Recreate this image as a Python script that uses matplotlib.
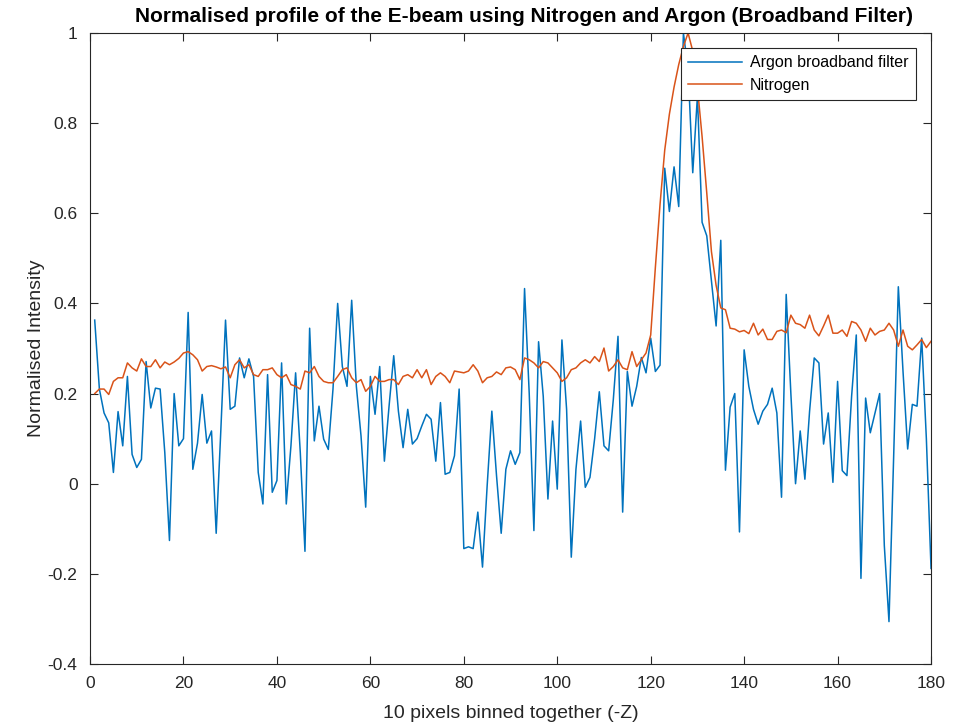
import numpy as np
import matplotlib
matplotlib.use("Agg")
from matplotlib import pyplot as plt

plt.rcParams['font.family'] = ['Liberation Sans', 'DejaVu Sans']

# bin index along -Z
bins = np.arange(1, 181)

# argon through the broadband filter (normalised)
argon = [
    0.363, 0.21, 0.157, 0.135, 0.025, 0.16, 0.084, 0.238, 0.065, 0.036,
    0.054, 0.271, 0.168, 0.212, 0.21, 0.069, -0.126, 0.2, 0.084, 0.10,
    0.38, 0.032, 0.09, 0.198, 0.09, 0.117, -0.11, 0.12, 0.363, 0.165,
    0.172, 0.279, 0.235, 0.277, 0.238, 0.025, -0.045, 0.242, -0.019, 0.007,
    0.268, -0.045, 0.084, 0.246, 0.069, -0.15, 0.345, 0.095, 0.172, 0.099,
    0.076, 0.21, 0.40, 0.26, 0.216, 0.407, 0.216, 0.106, -0.052, 0.238,
    0.154, 0.26, 0.05, 0.172, 0.284, 0.161, 0.08, 0.165, 0.088, 0.10,
    0.128, 0.154, 0.143, 0.05, 0.18, 0.021, 0.025, 0.062, 0.21, -0.144,
    -0.14, -0.144, -0.063, -0.185, -0.004, 0.161, 0.018, -0.11, 0.032, 0.073,
    0.043, 0.069, 0.433, 0.2, -0.104, 0.315, 0.194, -0.034, 0.139, -0.012,
    0.319, 0.165, -0.163, 0.032, 0.139, -0.008, 0.014, 0.10, 0.204, 0.084,
    0.073, 0.187, 0.327, -0.063, 0.249, 0.172, 0.216, 0.28, 0.246, 0.323,
    0.249, 0.263, 0.70, 0.604, 0.703, 0.615, 1.0, 0.92, 0.69, 0.86,
    0.58, 0.55, 0.45, 0.35, 0.54, 0.03, 0.17, 0.2, -0.107, 0.297,
    0.216, 0.165, 0.132, 0.161, 0.176, 0.212, 0.157, -0.03, 0.42, 0.2,
    0.0, 0.117, 0.01, 0.16, 0.279, 0.268, 0.088, 0.157, 0.003, 0.227,
    0.029, 0.018, 0.194, 0.33, -0.21, 0.19, 0.113, 0.157, 0.2, -0.137,
    -0.306, 0.06, 0.437, 0.25, 0.077, 0.176, 0.172, 0.323, 0.1, -0.188,
]

# nitrogen (normalised)
nitrogen = [
    0.2, 0.21, 0.21, 0.198, 0.227, 0.235, 0.235, 0.268, 0.257, 0.25,
    0.277, 0.26, 0.26, 0.275, 0.257, 0.27, 0.264, 0.27, 0.278, 0.29,
    0.293, 0.286, 0.275, 0.25, 0.26, 0.262, 0.259, 0.255, 0.259, 0.235,
    0.264, 0.275, 0.257, 0.264, 0.242, 0.238, 0.253, 0.253, 0.257, 0.242,
    0.235, 0.242, 0.22, 0.216, 0.21, 0.25, 0.246, 0.26, 0.238, 0.227,
    0.224, 0.224, 0.238, 0.253, 0.257, 0.235, 0.224, 0.231, 0.205, 0.216,
    0.238, 0.227, 0.227, 0.231, 0.231, 0.22, 0.238, 0.242, 0.235, 0.253,
    0.235, 0.253, 0.22, 0.238, 0.246, 0.238, 0.224, 0.25, 0.248, 0.246,
    0.25, 0.264, 0.25, 0.224, 0.235, 0.238, 0.248, 0.242, 0.257, 0.259,
    0.253, 0.231, 0.279, 0.275, 0.268, 0.257, 0.271, 0.268, 0.257, 0.246,
    0.227, 0.235, 0.253, 0.257, 0.268, 0.275, 0.268, 0.282, 0.271, 0.301,
    0.25, 0.26, 0.275, 0.257, 0.253, 0.293, 0.26, 0.275, 0.29, 0.33,
    0.48, 0.62, 0.74, 0.82, 0.88, 0.93, 0.97, 1.0, 0.96, 0.88,
    0.77, 0.645, 0.515, 0.44, 0.39, 0.386, 0.345, 0.343, 0.337, 0.34,
    0.333, 0.356, 0.33, 0.343, 0.32, 0.32, 0.338, 0.341, 0.335, 0.374,
    0.356, 0.353, 0.345, 0.374, 0.341, 0.328, 0.35, 0.374, 0.334, 0.334,
    0.341, 0.327, 0.36, 0.356, 0.341, 0.316, 0.345, 0.33, 0.338, 0.341,
    0.356, 0.341, 0.305, 0.341, 0.305, 0.297, 0.308, 0.32, 0.302, 0.316,
]

fig = plt.figure(figsize=(9.64, 7.24), dpi=100)
ax = fig.add_axes([0.0934, 0.0829, 0.8724, 0.8715])

ax.plot(bins, argon, color='#0072BD', lw=1.1, label='Argon broadband filter')
ax.plot(bins, nitrogen, color='#D95319', lw=1.1, label='Nitrogen')

ax.set_xlim(0, 180)
ax.set_ylim(-0.4, 1)
ax.set_xticks(np.arange(0, 181, 20))
ax.set_yticks([-0.4, -0.2, 0, 0.2, 0.4, 0.6, 0.8, 1])
ax.set_yticklabels(['-0.4', '-0.2', '0', '0.2', '0.4', '0.6', '0.8', '1'])

# boxed axes with inward ticks on every side
ax.tick_params(direction='in', top=True, right=True, length=6, width=0.8,
               labelsize=12.5, colors='#262626', pad=9)
for side in ax.spines.values():
    side.set_color('#262626')
    side.set_linewidth(0.8)

ax.set_title('Normalised profile of the E-beam using Nitrogen and Argon (Broadband Filter)',
             fontsize=15, fontweight='bold', pad=8, x=0.516)
ax.set_xlabel('10 pixels binned together (-Z)', fontsize=14, color='#262626', labelpad=10)
ax.set_ylabel('Normalised Intensity', fontsize=14, color='#262626', labelpad=2)

leg = ax.legend(loc='upper right', bbox_to_anchor=(0.982, 0.976), fontsize=11.5,
                fancybox=False, framealpha=1, edgecolor='#262626',
                borderaxespad=0, handlelength=3.4, borderpad=0.45,
                labelspacing=0.45, handletextpad=0.5)
leg.get_frame().set_linewidth(0.8)

fig.savefig('out.png', dpi=100)
